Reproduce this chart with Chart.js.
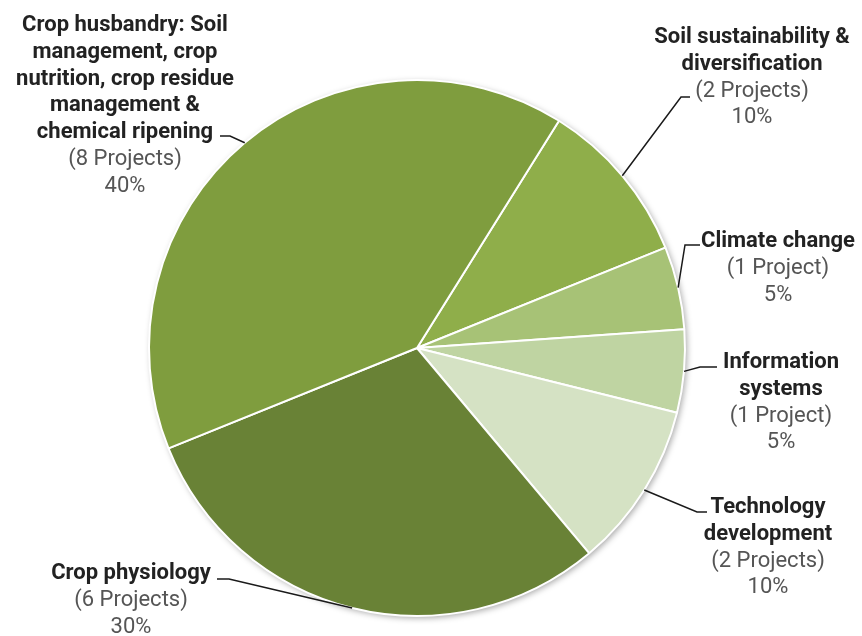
<!DOCTYPE html>
<html>
<head>
<meta charset="utf-8">
<script src="https://cdn.jsdelivr.net/npm/chart.js@4/dist/chart.umd.min.js"></script>
<style>
    html, body { margin: 0; padding: 0; background: #fff; }
    #wrap { width: 862px; height: 636px; position: relative; }
</style>
</head>
<body>
<div id="wrap"><canvas id="pieChart"></canvas></div>
<script>
// project areas, clockwise from the top-right slice
var areas = [
    ['Soil sustainability &', 'diversification'],
    ['Climate change'],
    ['Information', 'systems'],
    ['Technology', 'development'],
    ['Crop physiology'],
    ['Crop husbandry: Soil', 'management, crop', 'nutrition, crop residue', 'management &', 'chemical ripening']
];
var projects = [2, 1, 1, 2, 6, 8];
var colours = ['#8fae4a', '#a7c276', '#bfd4a2', '#d5e2c4', '#698236', '#7f9d3e'];

// where each label block sits: centre x, first baseline, leader start and elbow
var labelLayout = [
    { x: 752, y: 43, lead: [[690, 97], [681, 97]] },
    { x: 778, y: 247, lead: [[700, 245], [685, 245]] },
    { x: 781, y: 368, lead: [[717, 367], [700, 367]] },
    { x: 768, y: 513, lead: [[707, 512], [697, 512]] },
    { x: 131, y: 579, lead: [[217, 579], [229, 579]] },
    { x: 125, y: 31, lead: [[220, 136], [230, 136]] }
];

var total = projects.reduce(function (a, b) { return a + b; }, 0);
var FONT = 'Roboto, "Liberation Sans", sans-serif';
var LINE = 26.8;

// soft shadow under the whole pie
var pieShadow = {
    id: 'pieShadow',
    beforeDatasetsDraw: function (chart) {
        var arc = chart.getDatasetMeta(0).data[0];
        var ctx = chart.ctx;
        ctx.save();
        ctx.shadowColor = 'rgba(0,0,0,0.35)';
        ctx.shadowBlur = 6;
        ctx.shadowOffsetX = 2;
        ctx.shadowOffsetY = 2;
        ctx.fillStyle = '#fff';
        ctx.beginPath();
        ctx.arc(arc.x, arc.y, arc.outerRadius, 0, Math.PI * 2);
        ctx.fill();
        ctx.restore();
    }
};

// labels with leader lines to the middle of each slice
var sliceLabels = {
    id: 'sliceLabels',
    afterDatasetsDraw: function (chart) {
        var ctx = chart.ctx;
        var arcs = chart.getDatasetMeta(0).data;
        ctx.save();
        arcs.forEach(function (arc, i) {
            var pos = labelLayout[i];
            var mid = (arc.startAngle + arc.endAngle) / 2;
            var ex = arc.x + Math.cos(mid) * arc.outerRadius;
            var ey = arc.y + Math.sin(mid) * arc.outerRadius;

            ctx.strokeStyle = '#1a1a1a';
            ctx.lineWidth = 1.5;
            ctx.beginPath();
            ctx.moveTo(pos.lead[0][0], pos.lead[0][1]);
            ctx.lineTo(pos.lead[1][0], pos.lead[1][1]);
            ctx.lineTo(ex, ey);
            ctx.stroke();

            ctx.textAlign = 'center';
            ctx.textBaseline = 'alphabetic';
            var y = pos.y;
            ctx.fillStyle = '#222';
            ctx.font = 'bold 22px ' + FONT;
            areas[i].forEach(function (line) {
                ctx.fillText(line, pos.x, y);
                y += LINE;
            });
            ctx.fillStyle = '#555';
            ctx.font = '22px ' + FONT;
            var n = projects[i];
            ctx.fillText('(' + n + (n === 1 ? ' Project)' : ' Projects)'), pos.x, y);
            y += LINE;
            ctx.fillText(Math.round(n / total * 100) + '%', pos.x, y);
        });
        ctx.restore();
    }
};

var chart = new Chart(document.getElementById('pieChart'), {
    type: 'pie',
    data: {
        labels: areas.map(function (a) { return a.join(' '); }),
        datasets: [{
            data: projects,
            backgroundColor: colours,
            borderColor: '#fff',
            borderWidth: 2
        }]
    },
    options: {
        responsive: true,
        maintainAspectRatio: false,
        animation: false,
        rotation: 32,
        layout: { padding: { left: 148, right: 176, top: 79, bottom: 19 } },
        plugins: {
            legend: { display: false },
            tooltip: { enabled: false }
        }
    },
    plugins: [pieShadow, sliceLabels]
});
</script>
</body>
</html>
